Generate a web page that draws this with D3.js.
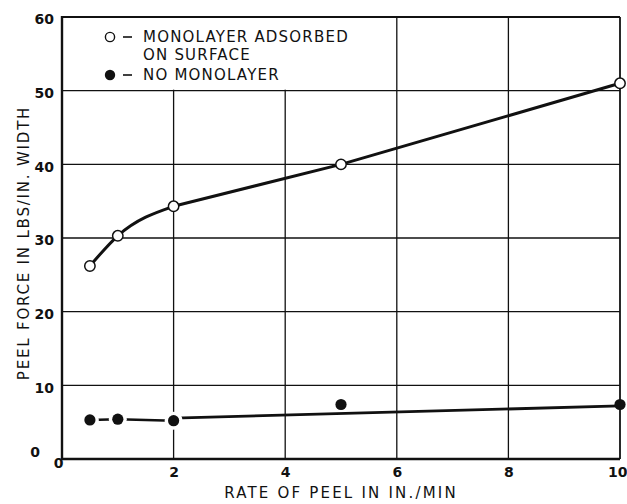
<!DOCTYPE html>
<html>
<head>
<meta charset="utf-8">
<script src="https://cdn.jsdelivr.net/npm/d3@7"></script>
<style>
  html, body { margin: 0; padding: 0; background: #fff; }
  svg { display: block; }
  text { font-family: "DejaVu Sans", sans-serif; fill: #111; }
</style>
</head>
<body>
<svg id="chart" width="627" height="504"></svg>
<script>
// Peel rate (in./min) vs peel force (lbs/in. width)
const rates = [0.5, 1, 2, 5, 10];
const withMonolayer = [26.2, 30.3, 34.3, 40.0, 51.0];
const noMonolayer = [5.3, 5.4, 5.2, 7.4, 7.4];
// straight trend drawn through the "no monolayer" points beyond 2 in./min
const trendRates = [2, 10];
const trendForce = [5.55, 7.2];
const xTicks = [0, 2, 4, 6, 8, 10];
const yTicks = [0, 10, 20, 30, 40, 50, 60];
const legendLabels = ["MONOLAYER ADSORBED", "ON SURFACE", "NO MONOLAYER"];

const svg = d3.select("#chart");
const pLeft = 62, pRight = 620, pTop = 17, pBottom = 459;

const x = d3.scaleLinear().domain([0, 10]).range([pLeft, pRight]);
const y = d3.scaleLinear().domain([0, 60]).range([pBottom, pTop]);

// grid
const g = svg.append("g");
g.selectAll("line.vg").data(xTicks.slice(1, -1)).join("line")
  .attr("x1", d => x(d)).attr("x2", d => x(d))
  .attr("y1", pTop).attr("y2", pBottom)
  .attr("stroke", "#111").attr("stroke-width", 1.3);
g.selectAll("line.hg").data(yTicks.slice(1, -1)).join("line")
  .attr("x1", pLeft).attr("x2", pRight)
  .attr("y1", d => y(d)).attr("y2", d => y(d))
  .attr("stroke", "#111").attr("stroke-width", 1.3);

// legend panel clears the grid in the upper-left cell
g.append("rect")
  .attr("x", pLeft + 1).attr("y", pTop + 1)
  .attr("width", x(6) - pLeft - 4).attr("height", y(50) - pTop - 2)
  .attr("fill", "#fff");

// frame
g.append("line").attr("x1", pLeft).attr("x2", pRight).attr("y1", pTop).attr("y2", pTop)
  .attr("stroke", "#111").attr("stroke-width", 1.8);
g.append("line").attr("x1", pRight).attr("x2", pRight).attr("y1", pTop).attr("y2", pBottom)
  .attr("stroke", "#111").attr("stroke-width", 1.8);
g.append("line").attr("x1", pLeft).attr("x2", pLeft).attr("y1", pTop - 1).attr("y2", pBottom + 1)
  .attr("stroke", "#111").attr("stroke-width", 2.4);
g.append("line").attr("x1", pLeft - 1).attr("x2", pRight).attr("y1", pBottom).attr("y2", pBottom)
  .attr("stroke", "#111").attr("stroke-width", 2.4);

// axes (labels only; grid drawn above)
const xAxis = d3.axisBottom(x).tickValues(xTicks).tickSize(0).tickPadding(6)
  .tickFormat(d3.format("d"));
const yAxis = d3.axisLeft(y).tickValues(yTicks).tickSize(0).tickPadding(8)
  .tickFormat(d3.format("d"));
const xa = svg.append("g").attr("transform", `translate(0,${pBottom})`).call(xAxis);
const ya = svg.append("g").attr("transform", `translate(${pLeft},0)`).call(yAxis);
[xa, ya].forEach(a => {
  a.select(".domain").remove();
  a.selectAll("text").style("font-family", "DejaVu Sans, sans-serif")
    .style("font-size", "14px").style("font-weight", "bold").attr("fill", "#111");
});
ya.selectAll(".tick text").attr("dy", "0.48em");
ya.selectAll(".tick").filter(d => d === 0).select("text").attr("dy", "-0.2em").attr("x", -22);
xa.selectAll(".tick text").attr("y", 18).attr("dy", 0);
xa.selectAll(".tick").filter(d => d === 0).select("text").attr("x", -4).attr("y", 9);
xa.selectAll(".tick").filter(d => d === 10).select("text")
  .attr("text-anchor", "end").attr("x", 627 - x(10));

// axis titles
svg.append("text").attr("x", 341).attr("y", 498).attr("text-anchor", "middle")
  .style("font-size", "15px").style("letter-spacing", "2.2px")
  .text("RATE OF PEEL IN IN./MIN");
svg.append("text").attr("transform", `translate(29,243) rotate(-90)`)
  .attr("text-anchor", "middle")
  .style("font-size", "15px").style("letter-spacing", "1.8px")
  .text("PEEL FORCE IN LBS/IN. WIDTH");

// series with monolayer: curved rise at low rates, straight beyond 2 in./min
const openPts = rates.map((r, i) => [r, withMonolayer[i]]);
const curve = d3.line().x(d => x(d[0])).y(d => y(d[1])).curve(d3.curveMonotoneX);
const straight = d3.line().x(d => x(d[0])).y(d => y(d[1]));
svg.append("path").attr("d", curve(openPts.slice(0, 3))).attr("fill", "none")
  .attr("stroke", "#111").attr("stroke-width", 3);
svg.append("path").attr("d", straight(openPts.slice(2))).attr("fill", "none")
  .attr("stroke", "#111").attr("stroke-width", 3);

// series without monolayer: broken joins at low rate, straight trend beyond
const filledPts = rates.map((r, i) => [r, noMonolayer[i]]);
svg.append("path").attr("d", straight(filledPts.slice(0, 3))).attr("fill", "none")
  .attr("stroke", "#111").attr("stroke-width", 2.6);
svg.append("path").attr("d", straight(trendRates.map((r, i) => [r, trendForce[i]])))
  .attr("fill", "none").attr("stroke", "#111").attr("stroke-width", 2.8);

// white halos opening gaps around the filled markers
svg.selectAll("circle.halo").data(filledPts.slice(0, 3)).join("circle")
  .attr("class", "halo")
  .attr("cx", d => x(d[0])).attr("cy", d => y(d[1])).attr("r", 9)
  .attr("fill", "#fff");
svg.selectAll("circle.filled").data(filledPts).join("circle")
  .attr("class", "filled")
  .attr("cx", d => x(d[0])).attr("cy", d => y(d[1])).attr("r", 5.6)
  .attr("fill", "#111");
svg.selectAll("circle.open").data(openPts).join("circle")
  .attr("class", "open")
  .attr("cx", d => x(d[0])).attr("cy", d => y(d[1])).attr("r", 5.2)
  .attr("fill", "#fff").attr("stroke", "#111").attr("stroke-width", 1.5);

// legend
const lg = svg.append("g");
lg.append("circle").attr("cx", 110).attr("cy", 37).attr("r", 4.6)
  .attr("fill", "#fff").attr("stroke", "#111").attr("stroke-width", 1.4);
lg.append("circle").attr("cx", 110).attr("cy", 75).attr("r", 5.2).attr("fill", "#111");
[37, 75].forEach(cy => {
  lg.append("line").attr("x1", 123).attr("x2", 132).attr("y1", cy).attr("y2", cy)
    .attr("stroke", "#111").attr("stroke-width", 1.6);
});
const lt = [[41.5, legendLabels[0]], [59.5, legendLabels[1]], [80, legendLabels[2]]];
lg.selectAll("text").data(lt).join("text")
  .attr("x", 143).attr("y", d => d[0])
  .style("font-size", "15px").style("letter-spacing", "1.2px")
  .text(d => d[1]);
</script>
</body>
</html>
